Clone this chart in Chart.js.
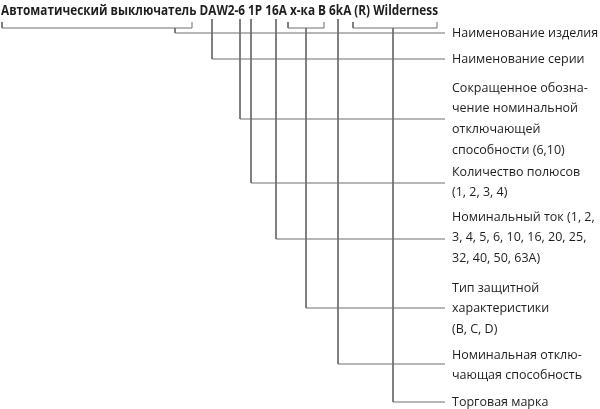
<!DOCTYPE html>
<html><head><meta charset="utf-8">
<script src="https://cdn.jsdelivr.net/npm/chart.js@4/dist/chart.umd.min.js"></script>
<style>html,body{margin:0;padding:0;background:#fff}#w{width:600px;height:409px}</style>
</head><body><div id="w"><canvas id="c"></canvas></div>
<script>
const titleText = "Автоматический выключатель DAW2-6 1P 16A x-ка B 6kA (R) Wilderness";
const labels = [
  ["Наименование изделия"],
  ["Наименование серии"],
  ["Сокращенное обозна-","чение номинальной","отключающей","способности (6,10)"],
  ["Количество полюсов","(1, 2, 3, 4)"],
  ["Номинальный ток (1, 2,","3, 4, 5, 6, 10, 16, 20, 25,","32, 40, 50, 63A)"],
  ["Тип защитной","характеристики","(B, C, D)"],
  ["Номинальная отклю-","чающая способность"],
  ["Торговая марка"]
];
const labelTopY = [33, 59, 88, 172, 217, 288, 355, 402];
const stemX   = [175, 212, 240, 251, 276, 306, 338, 393];
const stemTop = [28, 19, 19, 19, 19, 28, 19, 28];
const rowY    = [33, 59, 119, 183, 239, 308, 364, 402];
const brackets = [[2,192],[288,324],[353,437]];
const lineEndX = 445, bracketTop = 22, bracketBottom = 28, lineH = 20.8;

const ds = [];
const col = '#6e6e6e';
stemX.forEach((x,i)=>ds.push({data:[{x:x,y:stemTop[i]},{x:x,y:rowY[i]},{x:lineEndX,y:rowY[i]}]}));
brackets.forEach(b=>ds.push({data:[{x:b[0],y:bracketTop},{x:b[0],y:bracketBottom},{x:b[1],y:bracketBottom},{x:b[1],y:bracketTop}]}));
ds.forEach(d=>{d.showLine=true;d.borderColor=col;d.borderWidth=1;d.pointRadius=0;d.fill=false;});

const textPlugin = {id:'txt', afterDraw(ch){
  const c=ch.ctx, xs=ch.scales.x, ys=ch.scales.y;
  c.save();
  c.fillStyle='#1e1e1e'; c.textBaseline='middle';
  c.font='bold 13.5px "Open Sans"';
  const w=c.measureText(titleText).width, tw=xs.getPixelForValue(438)-xs.getPixelForValue(1);
  c.translate(xs.getPixelForValue(1), ys.getPixelForValue(11));
  c.scale(tw/w,1); c.fillText(titleText,0,0);
  c.restore(); c.save();
  c.fillStyle='#1e1e1e'; c.textBaseline='middle'; c.font='12.5px "Open Sans"';
  labels.forEach((ls,i)=>ls.forEach((t,j)=>c.fillText(t, xs.getPixelForValue(452), ys.getPixelForValue(labelTopY[i]+j*lineH))));
  c.restore();
}};

new Chart(document.getElementById('c'),{type:'scatter',data:{datasets:ds},plugins:[textPlugin],
 options:{responsive:true,maintainAspectRatio:false,animation:false,layout:{padding:0},
  plugins:{legend:{display:false},tooltip:{enabled:false}},
  scales:{x:{type:'linear',min:0,max:600,display:false},y:{type:'linear',min:0,max:409,reverse:true,display:false}}}});
</script></body></html>
